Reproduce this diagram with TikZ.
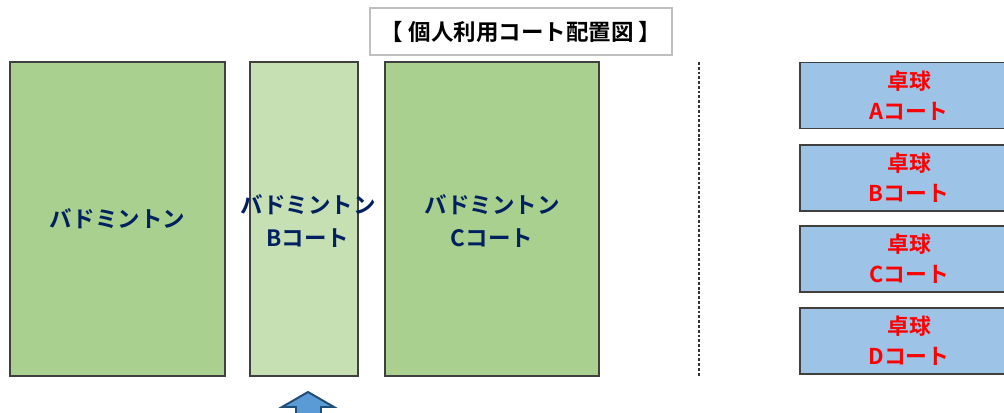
\documentclass[tikz,border=0pt]{standalone}
\usepackage{fontspec}
\usepackage{xcolor}
\usetikzlibrary{calc}
\newfontfamily\jpfont{Noto Sans CJK JP}[BoldFont={* Bold}]
\definecolor{edge}{HTML}{404040}
\definecolor{badm}{HTML}{A9D08E}
\definecolor{badmlight}{HTML}{C6E0B4}
\definecolor{ttfill}{HTML}{9DC3E6}
\definecolor{navy}{HTML}{002060}
\definecolor{arrowfill}{HTML}{5B9BD5}
\definecolor{arrowedge}{HTML}{1F4E79}
\definecolor{titleedge}{HTML}{BFBFBF}
\tikzset{
  court/.style={draw=edge, fill=badm, line width=1.4pt, inner sep=0pt,
    text=navy, align=center, font=\jpfont\bfseries\fontsize{16}{23}\selectfont},
  tt/.style={draw=edge, fill=ttfill, line width=1.4pt, inner sep=0pt,
    text=red, align=center, font=\jpfont\bfseries\fontsize{15.5}{21.5}\selectfont,
    minimum width=5.45cm, minimum height=1.65cm},
  ttl/.style={draw=titleedge, line width=0.9pt, fill=white, inner sep=0pt,
    font=\jpfont\bfseries\fontsize{16}{18}\selectfont},
  sep/.style={draw=black!80, line width=2pt, dash pattern=on 2pt off 1.4pt},
  uparrow/.style={draw=arrowedge, fill=arrowfill, line width=1.4pt, line join=miter},
}
\begin{document}
\begin{tikzpicture}[x=0.025cm, y=-0.025cm]
  \useasboundingbox[fill=white] (0,0) rectangle (1004,413);
  % title
  \node[ttl, minimum width=7.55cm, minimum height=1.175cm] (title) at (521,31.5) {【 個人利用コート配置図 】};
  % badminton courts
  \node[court, minimum width=5.375cm, minimum height=7.85cm] (courtA) at (117.5,219) {バドミントン};
  \node[court, fill=badmlight, minimum width=2.7cm, minimum height=7.85cm] (courtB) at (304,219) {};
  \node[text=navy, align=center, font=\jpfont\bfseries\fontsize{16}{23}\selectfont] (labelB) at (308,221) {バドミントン\\Bコート};
  \node[court, minimum width=5.35cm, minimum height=7.85cm] (courtC) at (492,219) {};
  \node[text=navy, align=center, font=\jpfont\bfseries\fontsize{16}{23}\selectfont] (labelC) at (492,221) {バドミントン\\Cコート};
  % divider
  \coordinate (sepTop) at (699,62);
  \coordinate (sepBot) at (699,376);
  \draw[sep] (sepTop) -- (sepBot);
  % table tennis
  \foreach \c/\y in {A/95.5,B/178,C/259,D/341} {
    \node[tt] (tt\c) at (909,\y) {卓球\\\c コート};
  }
  % arrow
  \coordinate (tip) at (308,392);
  \draw[uparrow] (tip) -- ($(tip)+(26,15)$) -- ($(tip)+(13,15)$) -- ($(tip)+(13,24)$)
    -- ($(tip)+(-12,24)$) -- ($(tip)+(-12,15)$) -- ($(tip)+(-26,15)$) -- cycle;
\end{tikzpicture}
\end{document}
